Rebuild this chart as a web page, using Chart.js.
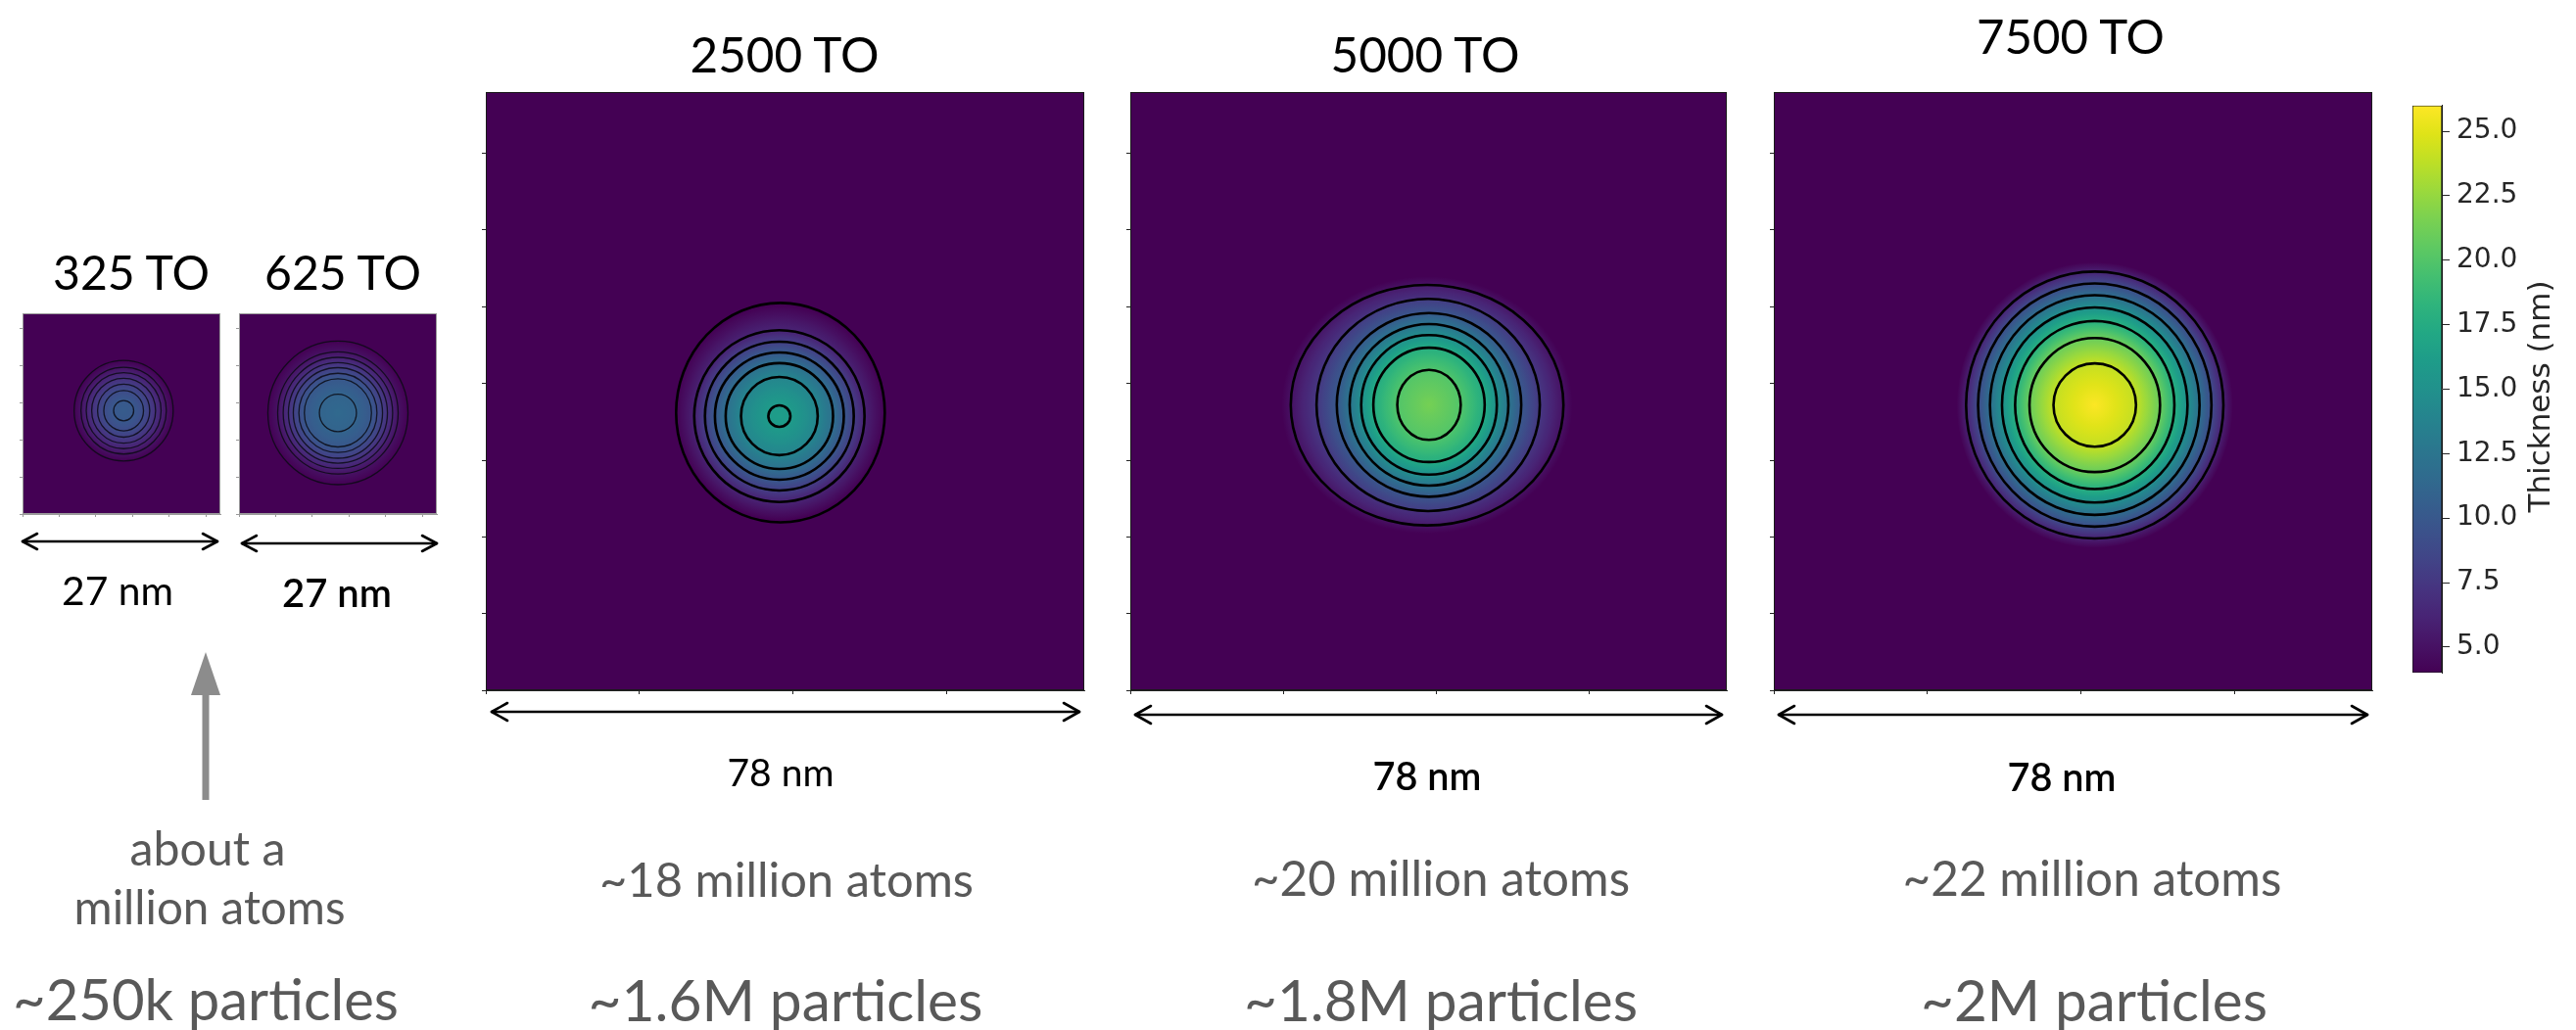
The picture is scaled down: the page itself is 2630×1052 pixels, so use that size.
<!DOCTYPE html>
<html><head><meta charset="utf-8">
<script src="https://cdn.jsdelivr.net/npm/chart.js@4.4.1/dist/chart.umd.min.js"></script>
<style>
html,body{margin:0;padding:0;background:#fff;}
#stage{position:relative;width:2630px;height:1052px;overflow:hidden;background:#fff;}
#stage canvas{position:absolute;}
#stage svg{position:absolute;left:0;top:0;}
.t{position:absolute;white-space:nowrap;line-height:1;transform:translate(-50%,-50%);font-family:Lato,'Open Sans',sans-serif;}
</style></head><body><div id="stage"></div>
<script>
// ---------------- DATA ----------------
const PANEL_TITLES = ['325 TO', '625 TO', '2500 TO', '5000 TO', '7500 TO'];
const SIZE_LABELS = ['27 nm', '27 nm', '78 nm', '78 nm', '78 nm'];
const ATOM_LABELS = ['~18 million atoms', '~20 million atoms', '~22 million atoms'];
const PARTICLE_LABELS = ['~250k particles', '~1.6M particles', '~1.8M particles', '~2M particles'];
const NOTE_LINES = ['about a', 'million atoms'];

// grid extent of each panel (0.1 nm cells)
const EXTENT = [270, 270, 780, 780, 780];
const TICKS_27 = [0, 50, 100, 150, 200, 250];
const X_TICKS_78 = [0, 200, 400, 600];
const Y_TICKS_78 = [0, 100, 200, 300, 400, 500, 600, 700];

// colour scale (thickness, nm)
const CBAR_MIN = 4.0, CBAR_MAX = 26.0;
const CBAR_TICKS = [5.0, 7.5, 10.0, 12.5, 15.0, 17.5, 20.0, 22.5, 25.0];
const CBAR_TITLE = 'Thickness (nm)';
const BG_THICKNESS = 4.0;

// contour rings: level (nm), centre and semi-axes (grid units), outer -> inner
const LEVELS_325 = [4, 5, 6, 7, 8, 9, 10];
const RX_325 = [67.6, 58.3, 51.1, 43.6, 35.6, 27.1, 13.7];
const RY_325 = [67.6, 58.3, 51.1, 43.6, 35.6, 27.1, 13.7];
const CX_325 = [138, 138, 138, 138, 138, 138, 138];
const CY_325 = [139, 139, 139, 139, 139, 139, 139];

const LEVELS_625 = [4, 5, 6, 7, 8, 9, 10, 11];
const RX_625 = [95.6, 82.2, 74.7, 67.6, 60.9, 53.3, 45.8, 25.3];
const RY_625 = [96.5, 82.2, 74.7, 67.6, 60.9, 53.3, 45.8, 25.3];
const CX_625 = [135, 135, 135, 135, 135, 135, 135, 135];
const CY_625 = [136, 136, 136, 136, 136, 136, 136, 136];

const LEVELS_2500 = [4, 6, 8, 10, 12, 14, 16];
const RX_2500 = [136, 111, 97, 84, 70, 50, 14.4];
const RY_2500 = [143, 112, 97, 83, 69, 51, 14];
const CX_2500 = [384, 382.6, 382.6, 382.6, 382.6, 382.6, 382.6];
const CY_2500 = [362, 357.5, 357.5, 357.5, 357.5, 357.5, 357.5];

const LEVELS_5000 = [5, 7.5, 10, 12.5, 15, 17.5, 20];
const RX_5000 = [178.3, 146, 120.6, 103.8, 88.7, 72.8, 41.5];
const RY_5000 = [156.8, 138.3, 119.8, 105.3, 90.9, 74.5, 45.7];
const CX_5000 = [388.1, 389.5, 390.6, 390.6, 390.6, 390.6, 390.6];
const CY_5000 = [371.8, 372, 372.1, 372.1, 372.1, 372.1, 372.1];

const LEVELS_7500 = [6, 9, 12, 15, 18, 21, 24];
const RX_7500 = [167.7, 152.1, 136.6, 120.9, 103.8, 85.1, 53.8];
const RY_7500 = [174, 158.5, 143.2, 127.2, 109.6, 87.4, 54.3];
const CX_7500 = [418.3, 418.3, 418.3, 418.3, 418.3, 418.3, 418.3];
const CY_7500 = [371.9, 371.9, 371.9, 371.9, 371.9, 371.9, 371.9];

// peak thickness at the droplet centre and footprint where it meets the film
const PEAK = [10.35, 11.45, 16.2, 21.4, 25.95];
const FOOT_RX = [67.6, 95.6, 136, 190, 180];
const FOOT_RY = [67.6, 96.5, 143, 168, 186];

// ---------------- COLOUR MAP ----------------
const VIRIDIS = ['#440154','#471365','#482475','#463480','#414487','#3b528b','#355f8d','#2f6c8e','#2a788e','#25848e','#21918c','#1e9c89','#22a884','#2fb47c','#44bf70','#5ec962','#7ad151','#9bd93c','#bddf26','#dfe318','#fde725'];
function hex2rgb(h){return [parseInt(h.substr(1,2),16),parseInt(h.substr(3,2),16),parseInt(h.substr(5,2),16)];}
const VIR_RGB = VIRIDIS.map(hex2rgb);
function viridis(v){
  let t = (v - CBAR_MIN) / (CBAR_MAX - CBAR_MIN);
  t = Math.max(0, Math.min(1, t));
  const f = t * (VIR_RGB.length - 1);
  const i = Math.min(Math.floor(f), VIR_RGB.length - 2);
  const u = f - i;
  const a = VIR_RGB[i], b = VIR_RGB[i+1];
  return 'rgb(' + [0,1,2].map(k => Math.round(a[k] + (b[k]-a[k])*u)).join(',') + ')';
}

// ---------------- LAYOUT ----------------
const stage = document.getElementById('stage');
const PANEL_BOXES = [
  {left: 23, top: 320, w: 202, h: 205},
  {left: 244, top: 320, w: 202, h: 205},
  {left: 496, top: 94, w: 611, h: 611},
  {left: 1154, top: 94, w: 609, h: 611},
  {left: 1811, top: 94, w: 611, h: 611}
];
const panels = [
  {levels: LEVELS_325, rx: RX_325, ry: RY_325, cx: CX_325, cy: CY_325, xTicks: TICKS_27, yTicks: TICKS_27, small: true},
  {levels: LEVELS_625, rx: RX_625, ry: RY_625, cx: CX_625, cy: CY_625, xTicks: TICKS_27, yTicks: TICKS_27, small: true},
  {levels: LEVELS_2500, rx: RX_2500, ry: RY_2500, cx: CX_2500, cy: CY_2500, xTicks: X_TICKS_78, yTicks: Y_TICKS_78, small: false},
  {levels: LEVELS_5000, rx: RX_5000, ry: RY_5000, cx: CX_5000, cy: CY_5000, xTicks: X_TICKS_78, yTicks: Y_TICKS_78, small: false},
  {levels: LEVELS_7500, rx: RX_7500, ry: RY_7500, cx: CX_7500, cy: CY_7500, xTicks: X_TICKS_78, yTicks: Y_TICKS_78, small: false}
];

function dropletPlugin(p, idx) {
  return {
    id: 'droplet' + idx,
    beforeDatasetsDraw(chart) {
      const {ctx, chartArea: a, scales: {x, y}} = chart;
      const W = a.right - a.left, H = a.bottom - a.top;
      ctx.save();
      ctx.beginPath(); ctx.rect(a.left, a.top, W, H); ctx.clip();
      ctx.fillStyle = viridis(BG_THICKNESS);
      ctx.fillRect(a.left, a.top, W, H);
      const toPx = (cx, cy, rx, ry) => {
        const px = x.getPixelForValue(cx), py = y.getPixelForValue(cy);
        return {x: px, y: py,
          rx: Math.abs(x.getPixelForValue(cx + rx) - px),
          ry: Math.abs(y.getPixelForValue(cy + ry) - py)};
      };
      const rings = [];
      rings.push(Object.assign(toPx(p.cx[0], p.cy[0], FOOT_RX[idx], FOOT_RY[idx]), {v: BG_THICKNESS}));
      for (let i = 0; i < p.levels.length; i++) {
        rings.push(Object.assign(toPx(p.cx[i], p.cy[i], p.rx[i], p.ry[i]), {v: p.levels[i]}));
      }
      const last = p.levels.length - 1;
      rings.push(Object.assign(toPx(p.cx[last], p.cy[last], 0, 0), {v: PEAK[idx]}));
      for (let i = 0; i < rings.length - 1; i++) {
        const o = rings[i], n = rings[i+1];
        if (o.rx <= 0.5) continue;
        const ao = o.ry / o.rx;
        const an = n.rx > 0.5 ? n.ry / n.rx : ao;
        const k = (ao + an) / 2;
        ctx.save();
        ctx.scale(1, k);
        const g = ctx.createRadialGradient(n.x, n.y / k, n.rx, o.x, o.y / k, Math.max(o.rx, n.rx + 0.01));
        const steps = 10;
        for (let s = 0; s <= steps; s++) {
          const t = s / steps;
          g.addColorStop(t, viridis(n.v + (o.v - n.v) * t));
        }
        ctx.fillStyle = g;
        ctx.beginPath();
        ctx.ellipse(o.x, o.y / k, o.rx, o.ry / k, 0, 0, 2 * Math.PI);
        ctx.fill();
        ctx.restore();
      }
      ctx.strokeStyle = p.small ? 'rgba(10,10,20,0.85)' : '#000';
      ctx.lineWidth = p.small ? 1.3 : 2.6;
      for (let i = 1; i <= p.levels.length; i++) {
        const r = rings[i];
        ctx.beginPath();
        ctx.ellipse(r.x, r.y, r.rx, r.ry, 0, 0, 2 * Math.PI);
        ctx.stroke();
      }
      ctx.restore();
    },
    afterDraw(chart) {
      const {ctx, chartArea: a} = chart;
      ctx.save();
      ctx.strokeStyle = p.small ? '#9a9a9a' : '#1a1a1a';
      ctx.lineWidth = 1;
      ctx.strokeRect(a.left + 0.5, a.top + 0.5, a.right - a.left - 1, a.bottom - a.top - 1);
      ctx.restore();
    }
  };
}

function makePanel(p, idx) {
  const b = PANEL_BOXES[idx];
  const padL = 14, padB = 14, padT = 4, padR = 4;
  const canvas = document.createElement('canvas');
  canvas.width = b.w + padL + padR;
  canvas.height = b.h + padT + padB;
  canvas.style.left = (b.left - padL) + 'px';
  canvas.style.top = (b.top - padT) + 'px';
  stage.appendChild(canvas);
  const tickColor = p.small ? '#9a9a9a' : '#222';
  const tickLen = p.small ? 3 : 4;
  new Chart(canvas, {
    type: 'scatter',
    data: {datasets: [{
      label: PANEL_TITLES[idx] + ' contour centres',
      data: p.cx.map((v, i) => ({x: v, y: p.cy[i]})),
      pointRadius: 0, pointHoverRadius: 0, showLine: false
    }]},
    options: {
      responsive: false, animation: false, devicePixelRatio: 1,
      layout: {padding: {top: padT, right: padR, left: 0, bottom: 0}},
      plugins: {legend: {display: false}, tooltip: {enabled: false}},
      scales: {
        x: {type: 'linear', min: 0, max: EXTENT[idx], position: 'bottom',
          afterBuildTicks: s => { s.ticks = p.xTicks.map(v => ({value: v})); },
          ticks: {display: false},
          grid: {drawOnChartArea: false, drawTicks: true, tickLength: tickLen, color: tickColor, lineWidth: 1},
          border: {display: true, color: tickColor, width: 1},
          afterFit: s => { s.height = padB; }},
        y: {type: 'linear', min: 0, max: EXTENT[idx], position: 'left',
          afterBuildTicks: s => { s.ticks = p.yTicks.map(v => ({value: v})); },
          ticks: {display: false},
          grid: {drawOnChartArea: false, drawTicks: true, tickLength: tickLen, color: tickColor, lineWidth: 1},
          border: {display: true, color: tickColor, width: 1},
          afterFit: s => { s.width = padL; }}
      }
    },
    plugins: [dropletPlugin(p, idx)]
  });
}
panels.forEach(makePanel);

// ---------------- COLOUR BAR ----------------
(function(){
  const canvas = document.createElement('canvas');
  canvas.width = 130; canvas.height = 627;
  canvas.style.left = '2463px'; canvas.style.top = '84px';
  stage.appendChild(canvas);
  new Chart(canvas, {
    type: 'bar',
    data: {labels: ['Thickness'], datasets: [{
      data: [[CBAR_MIN, CBAR_MAX]],
      backgroundColor: (c) => {
        const chart = c.chart; const a = chart.chartArea;
        if (!a) return VIRIDIS[0];
        const ys = chart.scales.y;
        const g = chart.ctx.createLinearGradient(0, ys.getPixelForValue(CBAR_MIN), 0, ys.getPixelForValue(CBAR_MAX));
        VIRIDIS.forEach((col, i) => g.addColorStop(i / (VIRIDIS.length - 1), col));
        return g;
      },
      borderColor: '#1a1a1a', borderWidth: 1, borderSkipped: false,
      categoryPercentage: 1, barPercentage: 1
    }]},
    options: {
      responsive: false, animation: false, devicePixelRatio: 1,
      layout: {padding: {top: 10, bottom: 10, left: 0, right: 0}},
      plugins: {legend: {display: false}, tooltip: {enabled: false}},
      scales: {
        x: {display: false},
        y: {position: 'right', min: CBAR_MIN, max: CBAR_MAX,
          afterBuildTicks: s => { s.ticks = CBAR_TICKS.map(v => ({value: v})); },
          ticks: {callback: v => Number(v).toFixed(1), font: {family: 'DejaVu Sans', size: 28}, color: '#262626', padding: 7, autoSkip: false},
          grid: {drawOnChartArea: false, drawTicks: true, tickLength: 8, color: '#262626'},
          border: {display: true, color: '#1a1a1a'},
          afterFit: s => { s.width = 100; }}
      }
    }
  });
})();

// ---------------- ARROWS ----------------
const NS = 'http://www.w3.org/2000/svg';
const svg = document.createElementNS(NS, 'svg');
svg.setAttribute('width', 2630); svg.setAttribute('height', 1052);
stage.appendChild(svg);
function el(tag, attrs){ const e = document.createElementNS(NS, tag); for (const k in attrs) e.setAttribute(k, attrs[k]); svg.appendChild(e); return e; }
const DIM_ARROWS = [
  {x1: 23, x2: 222, y: 553, hl: 15, hh: 8},
  {x1: 247, x2: 446, y: 555, hl: 15, hh: 8},
  {x1: 502, x2: 1102, y: 727, hl: 16, hh: 9},
  {x1: 1159, x2: 1758, y: 730, hl: 16, hh: 9},
  {x1: 1816, x2: 2417, y: 730, hl: 16, hh: 9}
];
DIM_ARROWS.forEach(a => {
  const st = {stroke: '#000', 'stroke-width': 2.6, fill: 'none', 'stroke-linecap': 'round', 'stroke-linejoin': 'round'};
  el('line', Object.assign({x1: a.x1, y1: a.y, x2: a.x2, y2: a.y}, st));
  el('polyline', Object.assign({points: `${a.x1+a.hl},${a.y-a.hh} ${a.x1},${a.y} ${a.x1+a.hl},${a.y+a.hh}`}, st));
  el('polyline', Object.assign({points: `${a.x2-a.hl},${a.y-a.hh} ${a.x2},${a.y} ${a.x2-a.hl},${a.y+a.hh}`}, st));
});
el('rect', {x: 206.5, y: 705, width: 7, height: 112, fill: '#8c8c8c'});
el('polygon', {points: '195,710 210,666 225,710', fill: '#8c8c8c'});

// ---------------- TEXT ----------------
function addText(txt, cx, cy, width, opts) {
  const d = document.createElement('div');
  d.className = 't';
  d.textContent = txt;
  d.style.left = cx + 'px'; d.style.top = cy + 'px';
  d.style.color = opts.color || '#000';
  if (opts.weight) d.style.fontWeight = opts.weight;
  stage.appendChild(d);
  d.style.fontSize = '100px';
  const w = d.getBoundingClientRect().width;
  d.style.fontSize = (100 * width / w).toFixed(2) + 'px';
  return d;
}
const GRAY = '#595959';
addText(PANEL_TITLES[0], 134, 278, 160, {});
addText(PANEL_TITLES[1], 350, 278, 160, {});
addText(PANEL_TITLES[2], 801, 56, 193, {});
addText(PANEL_TITLES[3], 1455, 56, 193, {});
addText(PANEL_TITLES[4], 2114, 36, 192, {});
addText(SIZE_LABELS[0], 120, 603, 114, {});
addText(SIZE_LABELS[1], 344, 605, 112, {weight: 600});
addText(SIZE_LABELS[2], 797, 788, 109, {});
addText(SIZE_LABELS[3], 1457, 792, 111, {weight: 600});
addText(SIZE_LABELS[4], 2105, 793, 111, {weight: 600});
addText(ATOM_LABELS[0], 803, 897, 382, {color: GRAY});
addText(ATOM_LABELS[1], 1471, 897, 386, {color: GRAY});
addText(ATOM_LABELS[2], 2136, 897, 387, {color: GRAY});
addText(PARTICLE_LABELS[0], 210, 1020, 394, {color: GRAY});
addText(PARTICLE_LABELS[1], 802, 1020, 403, {color: GRAY});
addText(PARTICLE_LABELS[2], 1471, 1020, 402, {color: GRAY});
addText(PARTICLE_LABELS[3], 2138, 1020, 354, {color: GRAY});
addText(NOTE_LINES[0], 212, 865, 159, {color: GRAY});
addText(NOTE_LINES[1], 214, 926, 277, {color: GRAY});

const cbl = document.createElement('div');
cbl.className = 't';
cbl.textContent = CBAR_TITLE;
cbl.style.left = '2592px'; cbl.style.top = '405px';
cbl.style.fontFamily = "'DejaVu Sans', sans-serif";
cbl.style.fontSize = '31px';
cbl.style.color = '#262626';
cbl.style.transform = 'translate(-50%,-50%) rotate(-90deg)';
stage.appendChild(cbl);
</script></body></html>
